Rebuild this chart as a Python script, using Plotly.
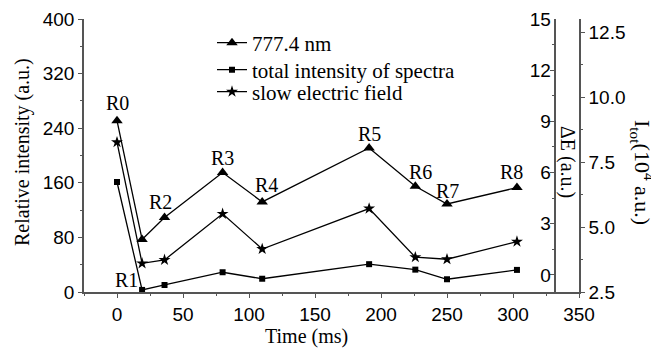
import plotly.graph_objects as go

# ---- data ----
time_ms = [0, 19, 36, 80, 110, 191, 226, 250, 303]
line_7774 = [251, 77, 109, 175, 132, 211, 155, 129, 153]          # left axis, relative intensity
total_intensity = [6.73, 2.58, 2.77, 3.26, 3.01, 3.57, 3.36, 2.99, 3.35]  # I_tot (10^4 a.u.)
slow_field = [7.78, 0.68, 0.88, 3.58, 1.52, 3.89, 1.04, 0.92, 1.95]      # Delta E (a.u.)
point_labels = ["R0", "R1", "R2", "R3", "R4", "R5", "R6", "R7", "R8"]

left_ticks = [0, 80, 160, 240, 320, 400]
de_ticks = [0, 3, 6, 9, 12, 15]
itot_ticks = [2.5, 5.0, 7.5, 10.0, 12.5]
x_ticks = [0, 50, 100, 150, 200, 250, 300, 350]

# ---- style ----
SERIF = "Liberation Serif, Times New Roman, serif"
SANS = "Liberation Sans, Arial, sans-serif"
AX = "#555555"
OFF = 8  # page body margin in the browser
W, H = 659 - OFF, 348 - OFF
# target plot box in page pixels: x 84..579, y 19..292
ML, MT = 84 - OFF, 19 - OFF
MR, MB = 659 - 579, 348 - 292
PW = W - ML - MR
PH = H - MT - MB
P = 0.951  # paper position of the Delta E axis
XR = [-25, 350]
label_shift = [(0, 18), (-16, -41), (-4, 16), (0, 15), (4, 17), (0, 14), (5, 14), (0, 13), (-5, 16)]
legend_rows = [43, 70, 92]


def px(xpage):
    return (xpage - 84) / PW


def py(ypage):
    return (292 - ypage) / PH


fig = go.Figure()
line_style = dict(color="black", width=1.3)
fig.add_trace(go.Scatter(x=time_ms, y=line_7774, name="777.4 nm", mode="lines+markers",
                         line=line_style, marker=dict(symbol="triangle-up", size=10, color="black"),
                         xaxis="x", yaxis="y", legend="legend"))
fig.add_trace(go.Scatter(x=time_ms, y=total_intensity, name="total intensity of spectra",
                         mode="lines+markers", line=line_style,
                         marker=dict(symbol="square", size=6, color="black"),
                         xaxis="x", yaxis="y3", legend="legend2"))
fig.add_trace(go.Scatter(x=time_ms, y=slow_field, name="slow electric field",
                         mode="lines+markers", line=line_style,
                         marker=dict(symbol="star", size=9, color="black"),
                         xaxis="x", yaxis="y2", legend="legend3"))

for t, v, lab, (dx, dy) in zip(time_ms, line_7774, point_labels, label_shift):
    fig.add_annotation(x=t, y=v, xref="x", yref="y", text=lab, showarrow=False,
                       xshift=dx, yshift=dy, font=dict(family=SERIF, size=20, color="black"))

tick_font = dict(family=SANS, size=19, color="black")
common = dict(showgrid=False, zeroline=False, automargin=False, showline=True,
              linecolor=AX, linewidth=1.5, tickcolor=AX, ticklen=4)


def legend_box(row_y):
    return dict(x=px(212), y=py(row_y), xanchor="left", yanchor="middle",
                font=dict(family=SERIF, size=21, color="black"),
                bgcolor="rgba(0,0,0,0)", itemwidth=30, tracegroupgap=0)


fig.update_layout(
    width=W, height=H,
    margin=dict(l=ML, r=MR, t=MT, b=MB, autoexpand=False),
    paper_bgcolor="white", plot_bgcolor="white",
    showlegend=True,
    legend=legend_box(legend_rows[0]),
    legend2=legend_box(legend_rows[1]),
    legend3=legend_box(legend_rows[2]),
    xaxis=dict(range=XR, domain=[0, 1], tickvals=x_ticks, ticks="outside",
               tickfont=tick_font,
               minor=dict(ticks="outside", ticklen=2, dtick=25, tickcolor=AX), anchor="y", **common),
    xaxis2=dict(range=[XR[0], XR[0] + P * (XR[1] - XR[0])], domain=[0, P], side="top",
                anchor="y", tickvals=x_ticks, ticks="inside", showticklabels=False,
                minor=dict(ticks="inside", ticklen=2, dtick=25, tickcolor=AX), **common),
    yaxis=dict(range=[0, 400], tickvals=left_ticks, ticks="outside", tickfont=tick_font,
               minor=dict(ticks="outside", ticklen=2, dtick=40, tickcolor=AX), **common),
    yaxis2=dict(range=[-1, 15], tickvals=de_ticks, overlaying="y", anchor="free", position=P,
                side="right", ticks="inside", ticklabelposition="inside",
                ticklabeloverflow="allow", tickfont=tick_font,
                minor=dict(ticks="inside", ticklen=2, dtick=1.5, tickcolor=AX), **common),
    yaxis3=dict(range=[2.5, 13.0], tickvals=itot_ticks, tickformat=".1f", overlaying="y",
                anchor="x", side="right", ticks="outside", tickfont=tick_font,
                minor=dict(ticks="outside", ticklen=2, dtick=1.25, tickcolor=AX), **common),
)

title_font = dict(family=SERIF, size=20, color="black")
fig.add_annotation(text="Relative intensity (a.u.)", xref="paper", yref="paper",
                   x=px(22), y=py(152), textangle=-90, showarrow=False,
                   xanchor="center", yanchor="middle", font=title_font)
fig.add_annotation(text="Time (ms)", xref="paper", yref="paper",
                   x=px(306), y=py(336), showarrow=False,
                   xanchor="center", yanchor="middle", font=title_font)
fig.add_annotation(text="ΔE (a.u.)", xref="paper", yref="paper",
                   x=px(568), y=py(162), textangle=90, showarrow=False,
                   xanchor="center", yanchor="middle", font=title_font)
fig.add_annotation(text="I<sub>tot</sub>(10<sup>4</sup> a.u.)", xref="paper", yref="paper",
                   x=px(643), y=py(172), textangle=90, showarrow=False,
                   xanchor="center", yanchor="middle", font=dict(family=SERIF, size=22, color="black"))

fig.write_html("out.html")
